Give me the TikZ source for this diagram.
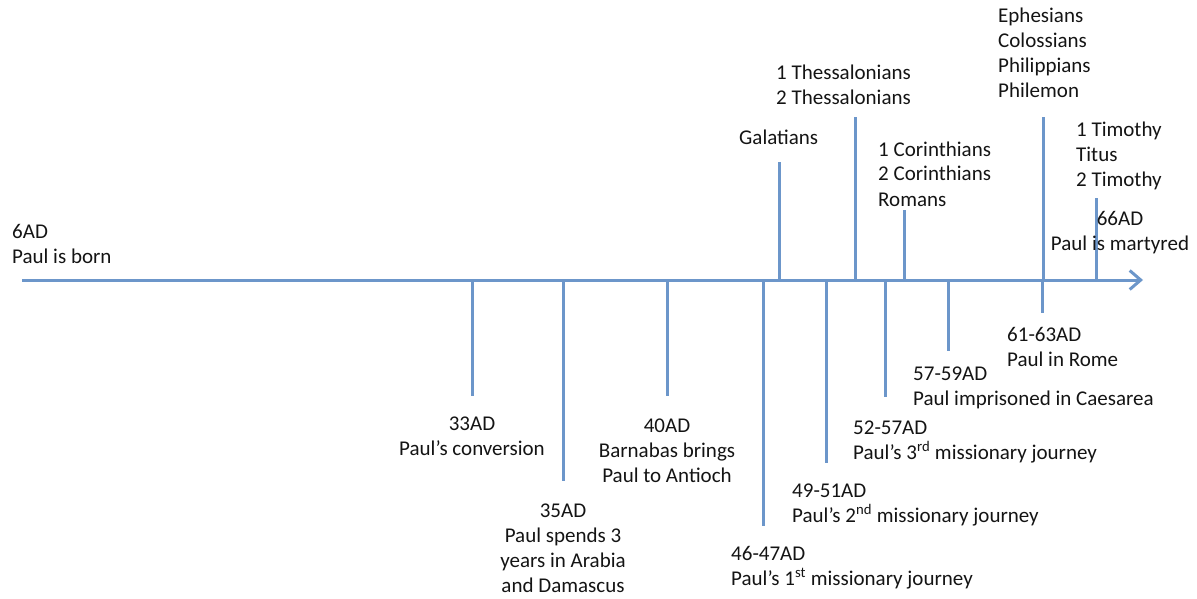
\documentclass[tikz,border=0pt]{standalone}
\usepackage{fontspec}
\setmainfont{Carlito}
\usetikzlibrary{arrows.meta}
\definecolor{tlblue}{RGB}{108,150,202}
\definecolor{txt}{RGB}{20,20,20}
\tikzset{
  axisline/.style={draw=tlblue,line width=3pt,-{Straight Barb[length=11pt,width=19pt,line width=3pt]}},
  tickline/.style={draw=tlblue,line width=3pt},
  lbl/.style={inner sep=0pt,font=\fontsize{21pt}{25pt}\selectfont,text=txt},
  lblL/.style={lbl,align=left,anchor=base west},
  lblC/.style={lbl,align=center,anchor=base},
}
\begin{document}
\begin{tikzpicture}[x=1pt,y=-1pt]
\useasboundingbox (0,0) rectangle (1197,599);
% axis
\coordinate (start) at (22,280);
\coordinate (end) at (1143,280);
\draw[axisline] (start) -- (end);
% ticks below
\coordinate (a33) at (472,280); \coordinate (e33) at (472,396);
\coordinate (a35) at (563,280); \coordinate (e35) at (563,481);
\coordinate (a40) at (667,280); \coordinate (e40) at (667,396);
\coordinate (a46) at (763,280); \coordinate (e46) at (763,526);
\coordinate (a49) at (826,280); \coordinate (e49) at (826,463);
\coordinate (a52) at (885,280); \coordinate (e52) at (885,397);
\coordinate (a57) at (948,280); \coordinate (e57) at (948,351);
\coordinate (a61) at (1042,280); \coordinate (e61) at (1042,313);
% ticks above
\coordinate (aGal) at (779,280); \coordinate (eGal) at (779,162);
\coordinate (aThe) at (855,280); \coordinate (eThe) at (855,117);
\coordinate (aCor) at (904,280); \coordinate (eCor) at (904,210);
\coordinate (aEph) at (1043,280); \coordinate (eEph) at (1043,117);
\coordinate (aTim) at (1096,280); \coordinate (eTim) at (1096,198);
\foreach \t in {33,35,40,46,49,52,57,61,Gal,The,Cor,Eph,Tim}
  \draw[tickline] (a\t) -- (e\t);
% labels (anchored at the baseline of the last line)
\node[lblL] (n6) at (12,263) {6AD\\Paul is born};
\node[lblC] (n33) at (472,455) {33AD\\Paul’s conversion};
\node[lblC] (n35) at (563,592) {35AD\\Paul spends 3\\years in Arabia\\and Damascus};
\node[lblC] (n40) at (667,482) {40AD\\Barnabas brings\\Paul to Antioch};
\node[lblL] (n46) at (731,585) {46-47AD\\Paul’s 1\textsuperscript{st} missionary journey};
\node[lblL] (n49) at (792,522) {49-51AD\\Paul’s 2\textsuperscript{nd} missionary journey};
\node[lblL] (n52) at (853,459) {52-57AD\\Paul’s 3\textsuperscript{rd} missionary journey};
\node[lblL] (n57) at (913,405) {57-59AD\\Paul imprisoned in Caesarea};
\node[lblL] (n61) at (1007,366) {61-63AD\\Paul in Rome};
\node[lblL] (nGal) at (739,145) {Galatians};
\node[lblL] (nThe) at (776,105) {1 Thessalonians\\2 Thessalonians};
\node[lblL] (nCor) at (878,206) {1 Corinthians\\2 Corinthians\\Romans};
\node[lblL] (nEph) at (998,98) {Ephesians\\Colossians\\Philippians\\Philemon};
\node[lblL] (nTim) at (1076,186) {1 Timothy\\Titus\\2 Timothy};
\node[lblC] (n66) at (1120,250) {66AD\\Paul is martyred};
\end{tikzpicture}
\end{document}
